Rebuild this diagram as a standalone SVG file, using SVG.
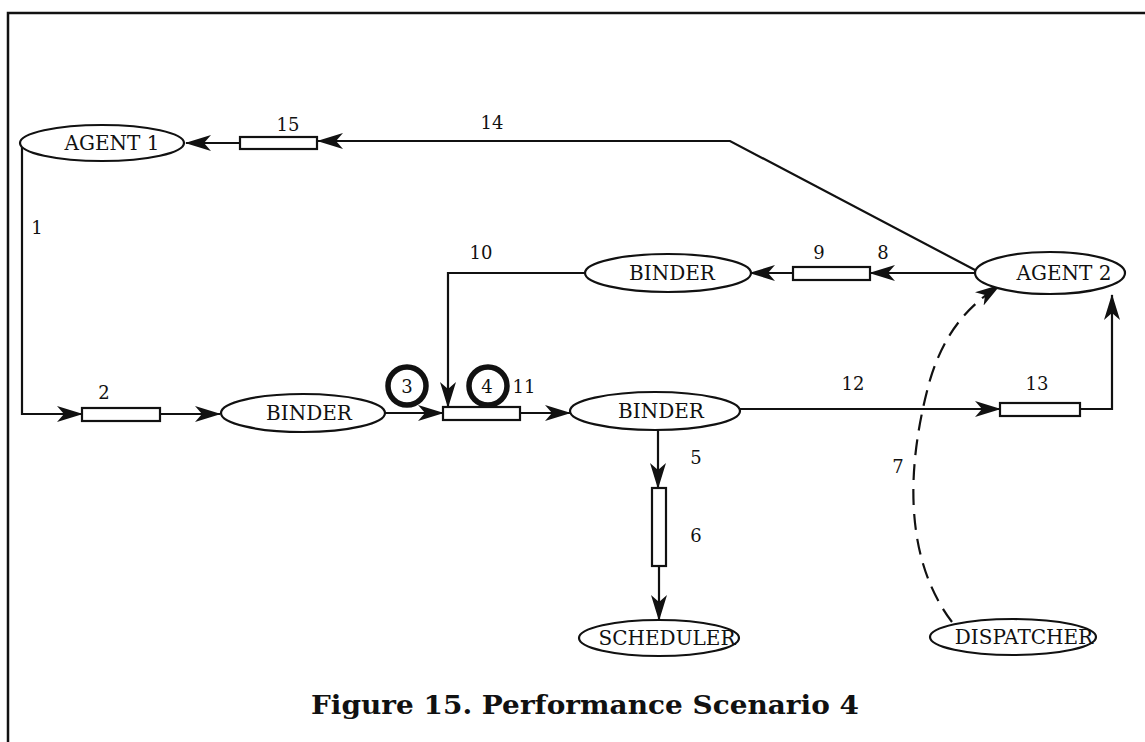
<svg xmlns="http://www.w3.org/2000/svg" width="1145" height="742" viewBox="0 0 1145 742">
<style>
.node{fill:#fff;stroke:#111;stroke-width:2.2}
.box{fill:#fff;stroke:#111;stroke-width:2.2}
.lbl{font-family:"DejaVu Serif","Liberation Serif",serif;font-size:20px;fill:#111;text-anchor:middle}
.num{font-family:"DejaVu Serif","Liberation Serif",serif;font-size:18px;fill:#111;text-anchor:middle}
.ln{fill:none;stroke:#111;stroke-width:2.2}
.arr{marker-end:url(#ah)}
.ring{fill:none;stroke:#111;stroke-width:5.5}
</style>
<defs>
<marker id="ah" viewBox="0 0 26 16" refX="25" refY="8" markerWidth="26" markerHeight="16" markerUnits="userSpaceOnUse" orient="auto">
<path d="M0,0 L26,8 L0,16 L7,8 z" fill="#111"/>
</marker>
</defs>
<rect x="0" y="0" width="1145" height="742" fill="#fff"/>
<g id="frame">
<path d="M8,742 V13 H1145" fill="none" stroke="#111" stroke-width="2.5"/>
</g>
<g id="connectors">
<path class="ln arr" d="M240,143 H186"/>
<path class="ln arr" d="M975,270 L730,141 H318"/>
<path class="ln arr" d="M22,147 V414 H82"/>
<path class="ln arr" d="M160,414 H220"/>
<path class="ln arr" d="M385,413 H443"/>
<path class="ln arr" d="M585,273 H448 V407"/>
<path class="ln arr" d="M520,413 H570"/>
<path class="ln arr" d="M740,409 H1000"/>
<path class="ln arr" d="M1080,409 H1112 V295"/>
<path class="ln arr" d="M975,273 H870"/>
<path class="ln arr" d="M793,273 H750"/>
<path class="ln arr" d="M658,430 V488"/>
<path class="ln arr" d="M659,566 V620"/>
<path class="ln arr" d="M952,622 C905,560 905,470 930,380 C945,330 970,305 1000,285" stroke-dasharray="16,9"/>
<text class="num" x="37" y="234">1</text>
<text class="num" x="104" y="399">2</text>
<text class="num" x="696" y="464">5</text>
<text class="num" x="696" y="542">6</text>
<text class="num" x="898" y="473">7</text>
<text class="num" x="883" y="259">8</text>
<text class="num" x="819" y="259">9</text>
<text class="num" x="481" y="259">10</text>
<text class="num" x="524" y="393">11</text>
<text class="num" x="853" y="390">12</text>
<text class="num" x="1037" y="390">13</text>
<text class="num" x="492" y="129">14</text>
<text class="num" x="288" y="131">15</text>
</g>
<g id="agent1">
<ellipse class="node" cx="102" cy="143" rx="82" ry="18"/>
<text class="lbl" x="112" y="150">AGENT 1</text>
</g>
<g id="box15"><rect class="box" x="240" y="137" width="77" height="12"/></g>
<g id="box2"><rect class="box" x="82" y="408" width="78" height="13"/></g>
<g id="binder1">
<ellipse class="node" cx="303" cy="413" rx="82" ry="19"/>
<text class="lbl" x="309" y="420">BINDER</text>
</g>
<g id="box34"><rect class="box" x="443" y="407" width="77" height="13"/></g>
<g id="ring3"><circle class="ring" cx="407" cy="386" r="19"/><text class="num" x="407" y="393">3</text></g>
<g id="ring4"><circle class="ring" cx="488" cy="386" r="19"/><text class="num" x="487" y="393">4</text></g>
<g id="binder2">
<ellipse class="node" cx="668" cy="273" rx="83" ry="19"/>
<text class="lbl" x="672" y="280">BINDER</text>
</g>
<g id="box9"><rect class="box" x="793" y="267" width="77" height="13"/></g>
<g id="agent2">
<ellipse class="node" cx="1050" cy="273" rx="75" ry="21"/>
<text class="lbl" x="1064" y="280">AGENT 2</text>
</g>
<g id="binder3">
<ellipse class="node" cx="655" cy="411" rx="85" ry="19"/>
<text class="lbl" x="661" y="418">BINDER</text>
</g>
<g id="box13"><rect class="box" x="1000" y="403" width="80" height="13"/></g>
<g id="box6"><rect class="box" x="652" y="488" width="14" height="78"/></g>
<g id="scheduler">
<ellipse class="node" cx="659" cy="638" rx="80" ry="18"/>
<text class="lbl" x="667" y="645" font-size="19">SCHEDULER</text>
</g>
<g id="dispatcher">
<ellipse class="node" cx="1013" cy="637" rx="83" ry="18"/>
<text class="lbl" x="1024" y="644" font-size="19">DISPATCHER</text>
</g>
<g id="caption">
<text x="585" y="714" font-family="'DejaVu Serif','Liberation Serif',serif" font-weight="bold" font-size="26" text-anchor="middle" textLength="548" lengthAdjust="spacingAndGlyphs" fill="#111">Figure 15.  Performance Scenario 4</text>
</g>
</svg>
